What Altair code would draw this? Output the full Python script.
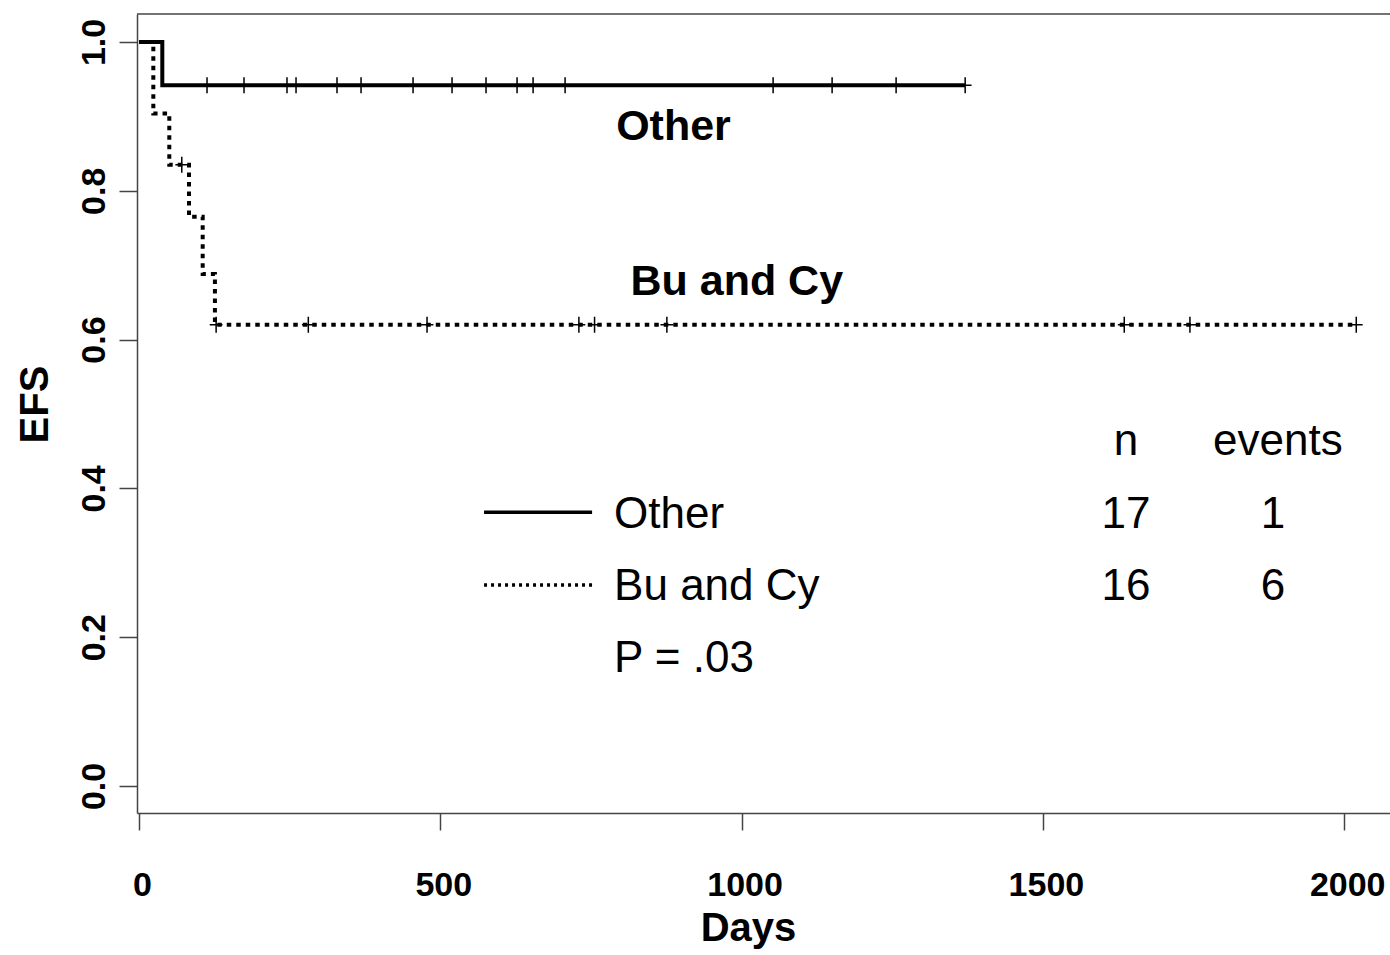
import altair as alt
import pandas as pd

# Kaplan-Meier step curves (days, event-free survival)
other_step_days = [0, 38.7, 1371]
other_step_efs = [1.0, 0.942, 0.942]
bu_step_days = [0, 23.8, 50.3, 83.0, 105.7, 126.0, 2020]
bu_step_efs = [1.0, 0.904, 0.835, 0.765, 0.688, 0.620, 0.620]

# censored observations
other_censor_days = [112.9, 174.3, 245.6, 260.6, 328.6, 368.5, 454.8, 519.5,
                     575.9, 627.4, 654.0, 707.1, 1052.3, 1150.2, 1256.4, 1371.0]
bu_censor_days = [71, 128, 281, 478, 730, 756, 876, 1635, 1744, 2020]
bu_censor_efs = [0.835, 0.62, 0.62, 0.62, 0.62, 0.62, 0.62, 0.62, 0.62, 0.62]

# summary table
groups = ["Other", "Bu and Cy"]
group_n = [17, 16]
group_events = [1, 6]
p_value_text = "P = .03"

x_ticks = [0, 500, 1000, 1500, 2000]
y_ticks = [0.0, 0.2, 0.4, 0.6, 0.8, 1.0]

W, H = 1253, 799
FONT = "Liberation Sans"

x_scale = alt.Scale(domain=[-3.3, 2076], nice=False, zero=False)
y_scale = alt.Scale(domain=[-0.0363, 1.0376], nice=False, zero=False)

x_axis = alt.Axis(
    values=x_ticks, format="d", grid=False, title="Days",
    labelFont=FONT, labelFontWeight="bold", labelFontSize=34, labelColor="black",
    labelBaseline="top", labelPadding=38, labelOffset=3,
    tickSize=17, tickWidth=1.5, tickColor="#444",
    domainColor="#444", domainWidth=1.5,
    titleFont=FONT, titleFontWeight="bold", titleFontSize=40, titleColor="black",
    titleX=611, titleY=127, titleAlign="center", titleBaseline="alphabetic",
    labelFlush=False, labelOverlap=False,
)
y_axis = alt.Axis(
    values=y_ticks, format=".1f", grid=False, title="EFS",
    labelFont=FONT, labelFontWeight="bold", labelFontSize=34, labelColor="black",
    labelAngle=270, labelAlign="center", labelBaseline="bottom", labelPadding=8,
    tickSize=18, tickWidth=1.5, tickColor="#444",
    domainColor="#444", domainWidth=1.5,
    titleFont=FONT, titleFontWeight="bold", titleFontSize=40, titleColor="black",
    titleAngle=270, titleX=-90, titleY=390, titleAlign="center",
    titleBaseline="alphabetic",
    labelFlush=False, labelOverlap=False,
)


def xy(xf="day", yf="efs"):
    return dict(
        x=alt.X(f"{xf}:Q", scale=x_scale, axis=x_axis),
        y=alt.Y(f"{yf}:Q", scale=y_scale, axis=y_axis),
    )


other_df = pd.DataFrame({"day": other_step_days, "efs": other_step_efs})
bu_df = pd.DataFrame({"day": bu_step_days, "efs": bu_step_efs})
other_cens = pd.DataFrame({"day": other_censor_days,
                           "efs": [other_step_efs[-1]] * len(other_censor_days)})
bu_cens = pd.DataFrame({"day": bu_censor_days, "efs": bu_censor_efs})

bu_line = alt.Chart(bu_df).mark_line(
    interpolate="step-after", color="black", strokeWidth=4,
    strokeDash=[4.5, 5], strokeCap="butt",
).encode(**xy())

other_line = alt.Chart(other_df).mark_line(
    interpolate="step-after", color="black", strokeWidth=4,
).encode(**xy())

plus_shape = "M0,-1V1M-0.8,0H0.8"
other_marks = alt.Chart(other_cens).mark_point(
    shape=plus_shape, filled=False, color="black", strokeWidth=1.5, size=256,
    opacity=1,
).encode(**xy())
bu_marks = alt.Chart(bu_cens).mark_point(
    shape=plus_shape, filled=False, color="black", strokeWidth=1.5, size=256,
    opacity=1,
).encode(**xy())

# curve labels
curve_labels = pd.DataFrame({
    "day": [887, 992], "efs": [0.868, 0.66], "label": groups,
})
curve_text = alt.Chart(curve_labels).mark_text(
    font=FONT, fontWeight="bold", fontSize=43, align="center",
    baseline="alphabetic", color="black",
).encode(text="label:N", **xy())

# legend keys
key_df = pd.DataFrame({
    "day": [572.6, 751.9, 572.6, 751.9],
    "efs": [0.368, 0.368, 0.270, 0.270],
    "group": [groups[0], groups[0], groups[1], groups[1]],
})
key_solid = alt.Chart(key_df[key_df.group == groups[0]]).mark_line(
    color="black", strokeWidth=3.5,
).encode(**xy())
key_dotted = alt.Chart(key_df[key_df.group == groups[1]]).mark_line(
    color="black", strokeWidth=3.5, strokeDash=[3, 4], strokeCap="butt",
).encode(**xy())

# legend table text
row_efs = [0.3468, 0.25]
left_text = pd.DataFrame({
    "day": [788.4, 788.4, 788.4],
    "efs": row_efs + [0.1532],
    "label": groups + [p_value_text],
})
center_text = pd.DataFrame({
    "day": [1638, 1890, 1638, 1882, 1638, 1882],
    "efs": [0.4449, 0.4449, row_efs[0], row_efs[0], row_efs[1], row_efs[1]],
    "label": ["n", "events", str(group_n[0]), str(group_events[0]),
              str(group_n[1]), str(group_events[1])],
})
legend_left = alt.Chart(left_text).mark_text(
    font=FONT, fontSize=44, align="left", baseline="alphabetic", color="black",
).encode(text="label:N", **xy())
legend_center = alt.Chart(center_text).mark_text(
    font=FONT, fontSize=44, align="center", baseline="alphabetic", color="black",
).encode(text="label:N", **xy())

# top edge of the plot frame
frame_top = alt.Chart(pd.DataFrame({"k": [0]})).mark_rule(
    color="#444", strokeWidth=1.5,
).encode(x=alt.value(0), x2=alt.value(W), y=alt.value(0))

chart = alt.layer(
    bu_line, other_line, other_marks, bu_marks, curve_text,
    key_solid, key_dotted, legend_left, legend_center, frame_top,
).properties(
    width=W, height=H,
    autosize=alt.AutoSizeParams(type="none"),
    padding={"left": 137, "top": 14, "right": 0, "bottom": 142},
    background="white",
).configure_view(stroke=None)

chart.save("out.html", embed_options={"renderer": "svg", "actions": False})
